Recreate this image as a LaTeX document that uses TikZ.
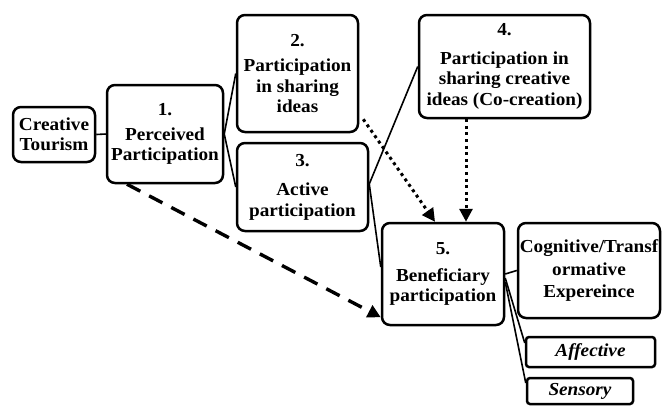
\documentclass[tikz,border=0pt]{standalone}
\usepackage{fontspec}
\setmainfont{Liberation Serif}[FakeStretch=1.05]
\usetikzlibrary{arrows.meta}
\begin{document}
\begin{tikzpicture}[x=1pt,y=-1pt,
  box/.style={draw, line width=2.5pt, rounded corners=8pt, align=center, inner sep=0pt,
    font=\fontsize{18.3}{20.5}\selectfont\bfseries},
  tagbox/.style={draw, line width=2.5pt, rounded corners=3pt, align=center, inner sep=0pt,
    font=\fontsize{18.3}{20}\selectfont\bfseries\itshape},
  link/.style={line width=1.6pt},
  dotarrow/.style={line width=3pt, dash pattern=on 3pt off 3.6pt,
    -{Triangle[length=13pt,width=13pt]}},
  dasharrow/.style={line width=3.4pt, dash pattern=on 15pt off 10pt,
    -{Triangle[length=13pt,width=13pt]}}
]
\useasboundingbox (0,0) rectangle (662,405);

\node[box, minimum width=82pt, minimum height=55pt] (ct) at (54,134.5) {Creative\\Tourism};
\node[box, minimum width=116pt, minimum height=98pt] (b1) at (165,134) {1.\\[4pt]Perceived\\Participation};
\node[box, minimum width=121pt, minimum height=117pt] (b2) at (297.5,73.5) {2.\\[5pt]Participation\\in sharing\\ideas};
\node[box, minimum width=131pt, minimum height=88pt] (b3) at (302.5,187) {3.\\[9pt]Active\\participation};
\node[box, minimum width=171pt, minimum height=103pt] (b4) at (504.5,66.5) {4.\\[8pt]Participation in\\sharing creative\\ideas (Co-creation)};
\node[box, minimum width=122pt, minimum height=102pt] (b5) at (443,274) {5.\\[6pt]Beneficiary\\participation};
\node[box, minimum width=142pt, minimum height=95pt, font=\fontsize{18.3}{22}\selectfont\bfseries] (cog) at (589,270.5) {Cognitive/Transf\\ormative\\Expereince};
\node[tagbox, minimum width=129pt, minimum height=30pt] (aff) at (590.5,352) {Affective};
\node[tagbox, minimum width=106pt, minimum height=26pt] (sen) at (580,391) {Sensory};

\draw[link] (ct.east) -- (b1.west);
\draw[link] (b1.east) -- (b2.west);
\draw[link] (b1.east) -- (b3.west);
\draw[link] ([yshift=3pt]b3.east) -- (b4.west);
\draw[link] ([yshift=3pt]b3.east) -- ([yshift=7pt]b5.west);
\draw[link] (b5.east) -- (cog.west);
\draw[link] ([yshift=-4pt]b5.east) -- ([yshift=9pt]aff.west);
\draw[link] ([yshift=-8pt]b5.east) -- ([yshift=8pt]sen.west);

\draw[dotarrow] ([shift={(4pt,14pt)}]b2.south east) -- ([xshift=-8pt]b5.north);
\draw[dotarrow] ([xshift=-38.5pt]b4.south) -- ([xshift=-38.5pt]b4.south |- b5.north);
\draw[dasharrow] ([xshift=-38pt]b1.south) -- ([yshift=9pt]b5.south west);
\end{tikzpicture}
\end{document}
